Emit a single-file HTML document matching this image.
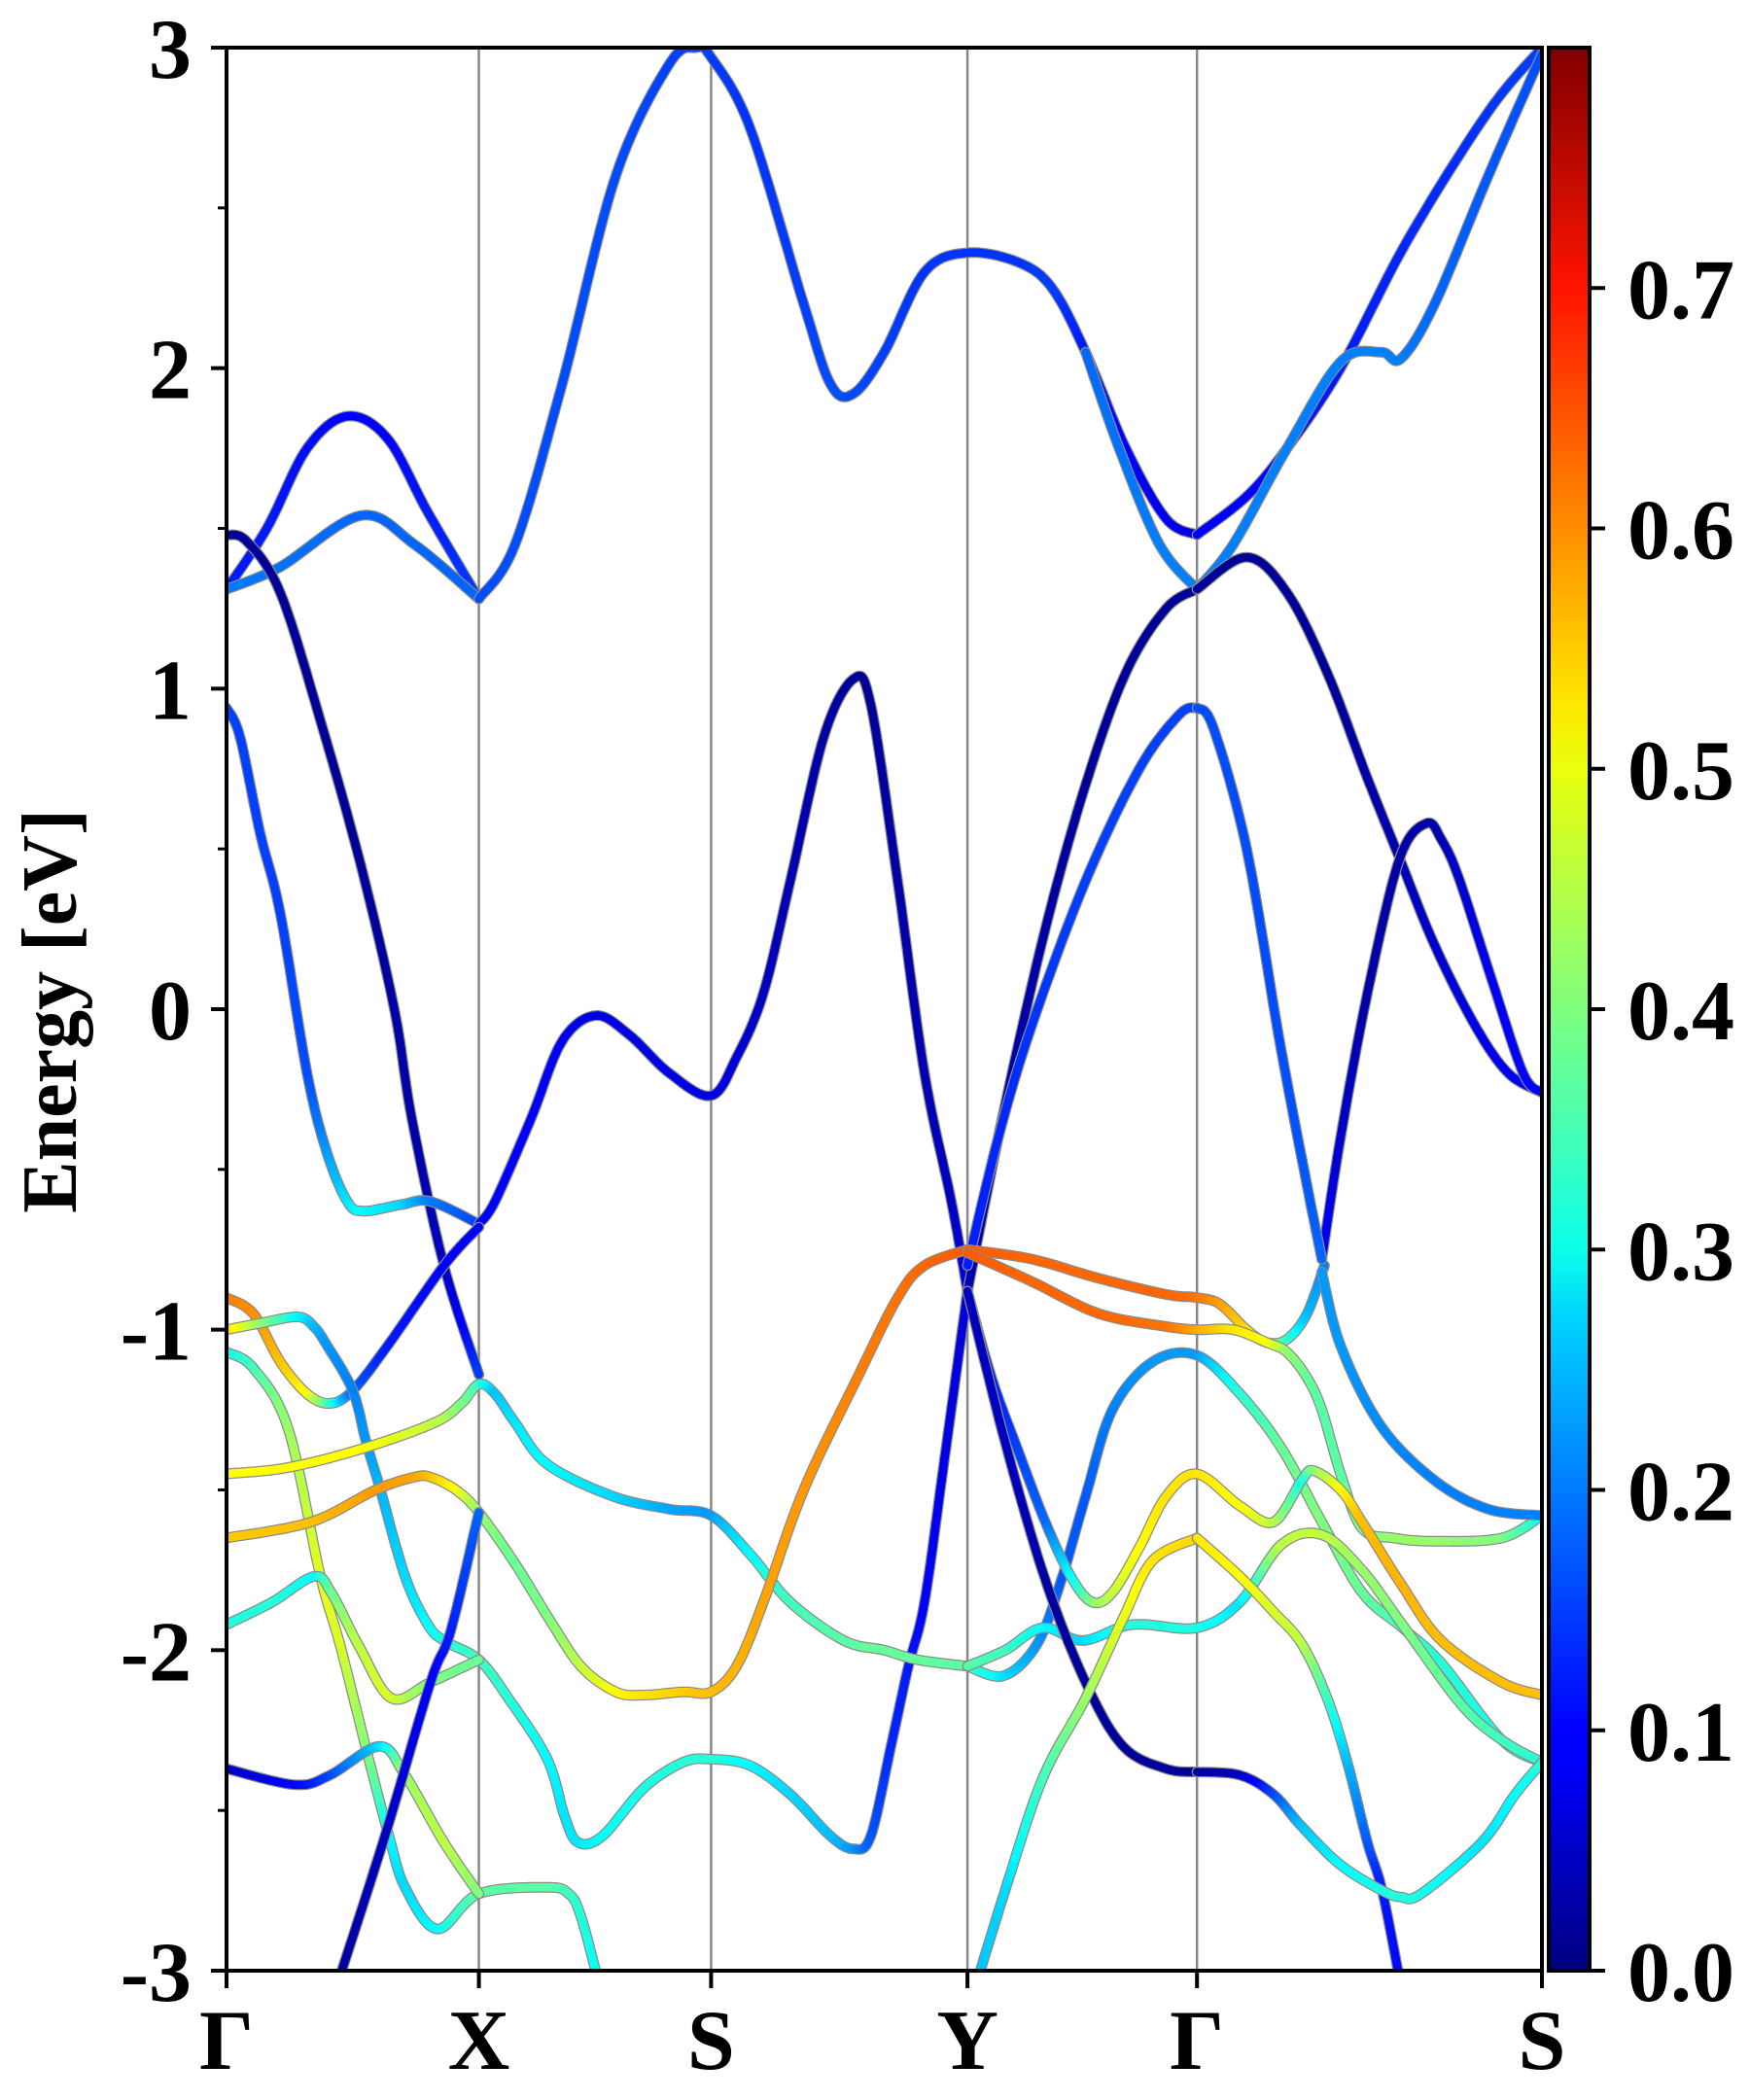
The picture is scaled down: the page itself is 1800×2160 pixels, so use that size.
<!DOCTYPE html>
<html><head><meta charset="utf-8"><style>
html,body{margin:0;padding:0;background:#fff;}
svg{display:block;}
text{font-family:"Liberation Serif",serif;font-weight:bold;fill:#000;}
</style></head><body>
<svg id="chart" width="1800" height="2160" viewBox="0 0 1800 2160" xmlns="http://www.w3.org/2000/svg">
<defs>
<clipPath id="plotclip"><rect x="233" y="49" width="1353" height="1978"/></clipPath>
<linearGradient id="jetgrad" x1="0" y1="1" x2="0" y2="0">
<stop offset="0" stop-color="#00007f"/><stop offset="0.11" stop-color="#0000ff"/>
<stop offset="0.125" stop-color="#0000ff"/><stop offset="0.34" stop-color="#00d4ff"/>
<stop offset="0.375" stop-color="#0dffea"/><stop offset="0.5" stop-color="#7fff7f"/>
<stop offset="0.625" stop-color="#eaff0d"/><stop offset="0.66" stop-color="#ffe600"/>
<stop offset="0.875" stop-color="#ff1300"/><stop offset="1" stop-color="#7f0000"/>
</linearGradient>
</defs>
<g id="grid"></g>
<g id="bands" clip-path="url(#plotclip)"></g>
<g id="axes"></g>
<text x="0" y="0" font-size="80" text-anchor="middle" transform="translate(78,1040) rotate(-90)">Energy [eV]</text>
<rect x="1593" y="49" width="42" height="1978" fill="url(#jetgrad)" stroke="#000" stroke-width="4"/>
</svg>
<script>
const kLabels = ["Γ","X","S","Y","Γ","S"];
const kTicks = [0,188,361,552,723,980];
const yTicks = [3,2,1,0,-1,-2,-3];
const yMinor = [2.5,1.5,0.5,-0.5,-1.5,-2.5];
const cbTicks = [0.0,0.1,0.2,0.3,0.4,0.5,0.6,0.7];
const cbMax = 0.8;

const band01 = [[0,1.31,.12],[30,1.5,.12],[60,1.75,.11],[90,1.85,.1],[120,1.78,.1],[150,1.55,.12],[188,1.28,.15]];
const band02 = [[0,1.31,.2],[40,1.38,.19],[100,1.54,.18],[140,1.45,.18],[188,1.28,.18]];
const band03 = [[188,1.28,.16],[215,1.45,.16],[250,1.95,.16],[290,2.6,.16],[330,2.95,.15],[350,3.0,.15],[361,2.97,.15],[390,2.75,.14],[430,2.2,.15],[450,1.95,.16],[467,1.92,.16],[490,2.05,.15],[520,2.3,.14],[552,2.36,.14],[590,2.33,.14],[615,2.25,.15],[640,2.05,.12],[670,1.75,.1],[700,1.53,.09],[723,1.48,.08]];
const band04 = [[640,2.05,.18],[665,1.75,.19],[695,1.45,.2],[723,1.31,.2]];
const band05 = [[723,1.48,.1],[760,1.6,.1],[790,1.75,.11],[830,2.0,.12],[880,2.4,.13],[940,2.8,.14],[980,3.0,.15]];
const band06 = [[723,1.31,.2],[750,1.45,.2],[790,1.75,.2],[830,2.02,.2],[860,2.05,.2],[875,2.03,.2],[900,2.2,.18],[940,2.6,.17],[980,2.98,.16]];
const band07 = [[0,1.48,.02],[15,1.46,.02],[40,1.3,.02],[70,0.9,.02],[100,0.45,.02],[125,0.0,.03],[138,-0.34,.03],[162,-0.80,.05],[188,-1.14,.15]];
const band08 = [[0,0.94,.15],[10,0.85,.15],[25,0.55,.15],[40,0.3,.15],[60,-0.2,.16],[75,-0.45,.22],[90,-0.6,.28],[102,-0.63,.3],[130,-0.61,.27],[152,-0.60,.2],[188,-0.67,.15]];
const band09 = [[188,-0.67,.1],[200,-0.6,.1],[227,-0.34,.1],[250,-0.1,.09],[275,-0.02,.08],[300,-0.08,.08],[330,-0.2,.08],[361,-0.27,.08],[380,-0.15,.07],[400,0.05,.05],[420,0.4,.04],[445,0.85,.03],[467,1.03,.02],[480,0.95,.02],[500,0.4,.03],[520,-0.2,.04],[540,-0.6,.05],[552,-0.88,.08]];
const band10 = [[0,-0.9,.6],[20,-0.95,.59],[40,-1.1,.55],[60,-1.2,.5],[77,-1.23,.35],[94,-1.19,.18],[120,-1.05,.12],[162,-0.80,.1],[188,-0.68,.1]];
const band11 = [[0,-1.0,.55],[25,-0.98,.42],[53,-0.96,.3],[65,-0.99,.25],[75,-1.05,.22],[94,-1.19,.2],[104,-1.35,.22],[114,-1.49,.24],[133,-1.77,.27],[150,-1.92,.3],[162,-1.97,.32],[188,-2.03,.35],[210,-2.15,.33],[239,-2.34,.3],[252,-2.52,.28],[262,-2.6,.28],[280,-2.58,.3],[311,-2.43,.32],[340,-2.35,.33],[361,-2.34,.33],[390,-2.36,.3],[420,-2.45,.27],[450,-2.58,.25],[467,-2.62,.22],[480,-2.58,.17],[495,-2.3,.13],[508,-2.05,.12],[520,-1.85,.1],[535,-1.4,.08],[552,-0.88,.07]];
const band12 = [[0,-1.07,.3],[20,-1.12,.35],[46,-1.31,.42],[70,-1.77,.48],[85,-1.99,.47],[106,-2.34,.4],[121,-2.58,.3],[133,-2.74,.27],[157,-2.87,.3],[188,-2.76,.37],[239,-2.74,.37],[255,-2.76,.35],[264,-2.83,.33],[278,-3.05,.3]];
const band13 = [[0,-1.45,.5],[46,-1.43,.5],[102,-1.37,.5],[155,-1.29,.45],[175,-1.23,.4],[188,-1.17,.35],[200,-1.2,.25],[215,-1.29,.28],[239,-1.42,.3],[288,-1.52,.27],[330,-1.56,.23],[361,-1.58,.22],[390,-1.7,.3],[420,-1.85,.35],[460,-1.97,.37],[490,-2.0,.38],[515,-2.03,.38],[552,-2.05,.37]];
const band14 = [[0,-1.65,.54],[63,-1.60,.55],[111,-1.5,.58],[140,-1.46,.57],[152,-1.46,.55],[171,-1.5,.5],[188,-1.57,.42],[215,-1.73,.38],[240,-1.9,.4],[264,-2.05,.45],[290,-2.13,.5],[311,-2.14,.52],[340,-2.13,.54],[361,-2.13,.55],[380,-2.05,.56],[400,-1.85,.57],[430,-1.5,.58],[470,-1.15,.6],[500,-0.9,.61],[520,-0.8,.62],[552,-0.75,.63]];
const band15 = [[0,-1.92,.32],[34,-1.85,.33],[65,-1.77,.3],[78,-1.82,.38],[99,-1.99,.45],[123,-2.15,.47],[152,-2.10,.4],[188,-2.03,.38]];
const band16 = [[0,-2.37,.05],[51,-2.42,.1],[77,-2.39,.15],[114,-2.30,.27],[133,-2.39,.42],[162,-2.6,.45],[188,-2.76,.4]];
const band17 = [[82,-3.05,.02],[118,-2.58,.05],[152,-2.10,.1],[167,-1.94,.12],[188,-1.57,.18]];
const band18 = [[552,-0.88,.04],[580,-0.3,.03],[610,0.25,.03],[640,0.7,.02],[670,1.05,.02],[700,1.25,.02],[723,1.31,.02]];
const band19 = [[552,-0.8,.12],[575,-0.4,.13],[600,-0.05,.14],[640,0.4,.15],[680,0.75,.15],[710,0.92,.15],[723,0.94,.15]];
const band20 = [[552,-0.75,.63],[600,-0.78,.62],[650,-0.84,.62],[700,-0.89,.62],[723,-0.9,.61],[740,-0.92,.58],[760,-1.0,.53],[775,-1.04,.45],[790,-1.03,.35],[805,-0.95,.25],[818,-0.8,.2]];
const band21 = [[552,-0.76,.63],[600,-0.85,.62],[650,-0.95,.62],[700,-0.99,.61],[723,-1.0,.57],[750,-1.0,.52],[775,-1.04,.5],[790,-1.07,.42],[805,-1.15,.38],[816,-1.25,.37],[830,-1.45,.37],[846,-1.62,.4],[870,-1.65,.42],[900,-1.66,.42],[950,-1.65,.4],[980,-1.58,.3]];
const band22 = [[552,-2.05,.37],[579,-2.08,.28],[604,-1.98,.22],[622,-1.78,.17],[640,-1.52,.17],[660,-1.25,.2],[690,-1.1,.22],[723,-1.08,.22],[755,-1.2,.33],[786,-1.37,.38],[816,-1.6,.4],[846,-1.82,.38],[876,-1.93,.35],[905,-2.04,.33],[950,-2.28,.32],[980,-2.35,.32]];
const band23 = [[552,-2.05,.37],[580,-2.0,.35],[608,-1.93,.3],[638,-1.97,.27],[675,-1.92,.33],[723,-1.93,.32],[755,-1.85,.28],[786,-1.67,.45],[816,-1.64,.45],[846,-1.75,.42],[876,-1.92,.4],[920,-2.17,.37],[950,-2.28,.35],[980,-2.35,.33]];
const band24 = [[552,-0.88,.1],[570,-1.15,.12],[590,-1.38,.15],[610,-1.6,.18],[629,-1.77,.3],[645,-1.85,.4],[660,-1.82,.45],[680,-1.68,.5],[700,-1.52,.52],[723,-1.45,.52],[755,-1.55,.5],[780,-1.6,.45],[801,-1.47,.32],[810,-1.44,.4],[830,-1.5,.5],[846,-1.6,.55],[876,-1.8,.56],[905,-1.97,.55],[950,-2.1,.55],[980,-2.14,.55]];
const band25 = [[552,-0.88,.05],[580,-1.35,.05],[610,-1.78,.03],[640,-2.1,.02],[668,-2.3,.02],[700,-2.37,.02],[723,-2.38,.02]];
const band26 = [[558,-3.05,.25],[580,-2.75,.27],[608,-2.4,.35],[640,-2.15,.42],[668,-1.9,.48],[690,-1.72,.52],[723,-1.65,.53]];
const band27 = [[723,-1.65,.52],[755,-1.77,.5],[780,-1.88,.47],[801,-1.98,.45],[820,-2.15,.35],[835,-2.35,.25],[850,-2.6,.17],[861,-2.75,.12],[875,-3.05,.1]];
const band28 = [[723,-2.38,.02],[755,-2.39,.05],[780,-2.45,.15],[801,-2.55,.25],[830,-2.67,.3],[861,-2.75,.32],[875,-2.77,.33],[890,-2.76,.32],[935,-2.6,.28],[960,-2.45,.3],[980,-2.35,.33]];
const band29 = [[723,1.31,.02],[760,1.41,.02],[790,1.3,.02],[820,1.05,.02],[850,0.72,.03],[874,0.47,.04],[900,0.2,.06],[930,-0.05,.08],[955,-0.2,.09],[980,-0.26,.1]];
const band30 = [[816,-0.78,.1],[830,-0.4,.06],[850,0.05,.03],[874,0.47,.03],[894,0.58,.03],[905,0.53,.04],[918,0.41,.06],[942,0.1,.09],[966,-0.2,.1],[980,-0.26,.1]];
const band31 = [[723,0.94,.16],[735,0.88,.16],[760,0.5,.16],[785,-0.11,.16],[805,-0.55,.17],[816,-0.78,.18]];
const band32 = [[816,-0.82,.22],[830,-1.05,.22],[860,-1.3,.21],[900,-1.47,.2],[940,-1.56,.2],[980,-1.58,.2]];

const allBands = [band01,band02,band03,band04,band05,band06,band07,band08,band09,band10,band11,band12,band13,band14,band15,band16,band17,band18,band19,band20,band21,band22,band23,band24,band25,band26,band27,band28,band29,band30,band31,band32];

const NS = "http://www.w3.org/2000/svg";
const X0 = 233, X1 = 1586, Y0 = 49, Y1 = 2027, KMAX = 980;
function xS(k){ return X0 + k / KMAX * (X1 - X0); }
function yS(e){ return Y0 + (3 - e) / 6 * (Y1 - Y0); }
function clamp(v){ return Math.max(0, Math.min(1, v)); }
function jet(w){
  const t = clamp(w / cbMax);
  const r = clamp(1.5 - Math.abs(4*t - 3)), g = clamp(1.5 - Math.abs(4*t - 2)), b = clamp(1.5 - Math.abs(4*t - 1));
  return "rgb(" + Math.round(r*255) + "," + Math.round(g*255) + "," + Math.round(b*255) + ")";
}
function mk(tag, attrs){ const el = document.createElementNS(NS, tag); for (const a in attrs) el.setAttribute(a, attrs[a]); return el; }

const grid = document.getElementById("grid");
kTicks.slice(1, -1).forEach(function(k){
  const l = mk("line", {x1: xS(k), x2: xS(k), y1: Y0, y2: Y1, stroke: "#888", "stroke-width": 2.5});
  
  
  grid.appendChild(l);
});

function densify(pts){
  const out = [];
  for (let i = 0; i < pts.length - 1; i++){
    const p0 = pts[Math.max(0, i-1)], p1 = pts[i], p2 = pts[i+1], p3 = pts[Math.min(pts.length-1, i+2)];
    const n = 14;
    for (let j = 0; j < n; j++){
      const t = j / n, t2 = t*t, t3 = t2*t;
      const f = function(a, b, c, d){ return 0.5*((2*b) + (-a + c)*t + (2*a - 5*b + 4*c - d)*t2 + (-a + 3*b - 3*c + d)*t3); };
      out.push([f(p0[0],p1[0],p2[0],p3[0]), f(p0[1],p1[1],p2[1],p3[1]), p1[2] + (p2[2]-p1[2])*t]);
    }
  }
  out.push(pts[pts.length-1]);
  return out;
}

const bandsG = document.getElementById("bands");
allBands.forEach(function(band, bi){
  const g = mk("g", {});
  
  
  const d = densify(band);
  const pathD = d.map(function(p, i){ return (i ? "L" : "M") + xS(p[0]).toFixed(1) + "," + yS(p[1]).toFixed(1); }).join("");
  const under = mk("path", {d: pathD, fill: "none", stroke: "#8a8a8a", "stroke-width": 11, "stroke-linejoin": "round", "stroke-linecap": "round"});
  
  
  g.appendChild(under);
  for (let i = 0; i < d.length - 1; i++){
    const seg = mk("line", {x1: xS(d[i][0]).toFixed(1), y1: yS(d[i][1]).toFixed(1), x2: xS(d[i+1][0]).toFixed(1), y2: yS(d[i+1][1]).toFixed(1), stroke: jet((d[i][2] + d[i+1][2]) / 2), "stroke-width": 8.5, "stroke-linecap": "round"});
    
    
    g.appendChild(seg);
  }
  bandsG.appendChild(g);
});

const axes = document.getElementById("axes");
const frame = mk("rect", {x: X0, y: Y0, width: X1 - X0, height: Y1 - Y0, fill: "none", stroke: "#000", "stroke-width": 4});


axes.appendChild(frame);
yTicks.forEach(function(v){
  const t = mk("line", {x1: X0 - 16, x2: X0, y1: yS(v), y2: yS(v), stroke: "#000", "stroke-width": 4});
  
  
  axes.appendChild(t);
  const lb = mk("text", {x: 197, y: yS(v) + 31, "font-size": 88, "text-anchor": "end"});
  lb.textContent = String(v);
  
  
  axes.appendChild(lb);
});
yMinor.forEach(function(v){
  const t = mk("line", {x1: X0 - 9, x2: X0, y1: yS(v), y2: yS(v), stroke: "#000", "stroke-width": 3});
  
  
  axes.appendChild(t);
});
kTicks.forEach(function(k, i){
  const t = mk("line", {x1: xS(k), x2: xS(k), y1: Y1, y2: Y1 + 18, stroke: "#000", "stroke-width": 4});
  
  
  axes.appendChild(t);
  const lb = mk("text", {x: xS(k), y: 2128, "font-size": 88, "text-anchor": "middle"});
  lb.textContent = kLabels[i];
  
  
  axes.appendChild(lb);
});
cbTicks.forEach(function(v){
  const y = Y1 - v / cbMax * (Y1 - Y0);
  const t = mk("line", {x1: 1635, x2: 1651, y1: y, y2: y, stroke: "#000", "stroke-width": 4});
  
  
  axes.appendChild(t);
  const lb = mk("text", {x: 1674, y: y + 31, "font-size": 88, "text-anchor": "start"});
  lb.textContent = v.toFixed(1);
  
  
  axes.appendChild(lb);
});
</script>
</body></html>
